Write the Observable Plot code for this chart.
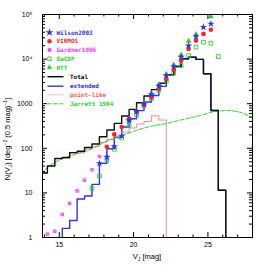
<!DOCTYPE html>
<html><head><meta charset="utf-8">
<script src="https://cdn.jsdelivr.net/npm/d3@7"></script>
<script src="https://cdn.jsdelivr.net/npm/@observablehq/plot@0.6"></script>
<style>body{margin:0;background:#fff;} svg{display:block;}</style>
</head><body><div id="chart"></div>
<script>
// ---- data ----
const binLo = [13.7,14.2,14.7,15.2,15.7,16.2,16.7,17.2,17.7,18.2,18.7,19.2,19.7,20.2,20.7,21.2,21.7,22.2,22.7,23.2,23.7,24.2,24.7,25.2,25.7];
const lastEdge = 26.2;
const totalN    = [28,40,59,62,80,86,104,125,182,257,363,530,746,1050,1490,2065,2880,4450,6830,10160,11000,9840,4690,703,11.5];
const extendedN = [0,0,0,1.6,2.4,7.3,8.5,15.5,46,98,175,300,460,700,1090,1530,2450,4450,6830,10160,11000,9840,4690,703,11.5];
const pointN    = [28,40,59,60,78,79,96,110,136,159,188,230,286,350,400,535,430,0,0,0,0,0,0,0,0];

const jarrettMag = [13.8,14.41,15.08,15.96,17.1,18.11,19.12,19.99,21.14,22.21,23.16,24.5,25.58,26.25,27.19,28.0];
const jarrettN   = [27,42,56,71,94,141,188,240,310,360,430,545,680,700,640,480];

const wilsonMag = [17.7,18.2,18.7,19.2,19.7,20.2,20.7,21.2,21.7,22.2,22.7,23.2,23.7,24.2,24.7,25.2];
const wilsonN   = [46,64,110,190,420,670,1000,1600,2500,4300,6800,11200,20000,32000,52000,61600];
const virmosMag = [18.2,18.7,19.2,19.7,20.2,20.7,21.2,21.7,22.2,22.7,23.2,23.7,24.2,24.7,25.2];
const virmosN   = [108,205,300,460,650,930,1400,2160,3600,5700,9300,16800,26000,36700,45400];
const gardnerMag = [14.2,14.7,15.2,15.7,16.2,16.7,17.2,17.7];
const gardnerN   = [1.19,1.38,3.28,5.8,11.1,19.3,33,65.4];
const oacdfMag = [17.2,17.7,18.2,18.7,19.2,19.7,20.2,20.7,21.2,21.7,22.2,22.7,23.2,23.7,24.2,24.7,25.2,25.7];
const oacdfN   = [12.6,24,53,95,170,330,560,900,1300,2000,3200,4800,7200,12000,18600,24000,22700,11400];
const nttMag = [19.7,20.2,20.7,21.2,21.7,22.2,22.7,23.2,23.7,24.2,25.2];
const nttN   = [430,700,1050,1700,2700,4600,7500,12500,25400,36000,90000];

const xLabels = [15,20,25];
const yLabels = [1,10,100,1000,10000,100000];
const yLabelText = ["1","10","100","1000","10\u2074","10\u2075"];

// ---- helpers ----
const yFloor = 1; // bottom of log axis stands for zero counts
function steps(vals){
  let f = vals.findIndex(v => v > 0), l = vals.length - 1;
  while (l > 0 && !(vals[l] > 0)) l--;
  const pts = [{x: binLo[f], y: yFloor}];
  for (let i = f; i <= l; i++) pts.push({x: binLo[i], y: vals[i]});
  const end = l + 1 < binLo.length ? binLo[l+1] : lastEdge;
  pts.push({x: end, y: vals[l]});
  pts.push({x: end, y: yFloor});
  return pts;
}
const zip = (xs, ys) => xs.map((x,i) => ({x, y: ys[i]}));

const W = 266, H = 266, mL = 42, mR = 14, mT = 14, mB = 29;
const frameW = W - mL - mR, frameH = H - mT - mB;
const xMinor = d3.range(14, 29).filter(v => !xLabels.includes(v));
const yMinor = [];
for (let e = 0; e < 5; e++) for (let m = 2; m <= 9; m++) yMinor.push(m * 10 ** e);

const C = {blue:"#2f2fff", red:"#ff1f1f", pink:"#ff5a5a", mag:"#ff30ff", green:"#27d327", black:"#000"};

const chart = Plot.plot({
  width: W, height: H,
  marginLeft: mL, marginRight: mR, marginTop: mT, marginBottom: mB,
  style: {fontFamily: "Liberation Sans, Arial, sans-serif", fontSize: "7px", background: "#fff"},
  x: {domain: [13.87, 28], axis: null},
  y: {type: "log", domain: [1, 1e5], axis: null},
  marks: [
    Plot.line(steps(extendedN), {x:"x", y:"y", curve:"step-after", stroke:C.blue, strokeWidth:1.4, clip:true}),
    Plot.line(steps(pointN), {x:"x", y:"y", curve:"step-after", stroke:C.pink, strokeWidth:0.8, strokeDasharray:"1,1", clip:true}),
    Plot.line(zip(jarrettMag, jarrettN), {x:"x", y:"y", curve:"monotone-x", stroke:C.green, strokeWidth:1, strokeDasharray:"4,2", clip:true}),
    Plot.line(steps(totalN), {x:"x", y:"y", curve:"step-after", stroke:"#111", strokeWidth:1.4, clip:true}),
    Plot.dot(zip(nttMag, nttN), {x:"x", y:"y", symbol:"triangle", fill:C.green, r:2.1}),
    Plot.dot(zip(oacdfMag, oacdfN), {x:"x", y:"y", symbol:"square", stroke:C.green, fill:"none", strokeWidth:0.9, r:2.1}),
    Plot.dot(zip(gardnerMag, gardnerN), {x:"x", y:"y", symbol:"square", fill:C.mag, r:1.9}),
    Plot.dot(zip(gardnerMag, gardnerN), {x:"x", y:"y", symbol:"times", stroke:"#ffb0ff", strokeWidth:0.6, r:1.4}),
    Plot.dot(zip(virmosMag, virmosN), {x:"x", y:"y", symbol:"circle", fill:C.red, r:2.3}),
    Plot.dot(zip(wilsonMag, wilsonN), {x:"x", y:"y", symbol:"star", fill:C.blue, r:2.3}),
    // inward ticks, all four sides
    Plot.tickX(xLabels, {x:d=>d, insetTop: frameH-5, stroke:"#000"}),
    Plot.tickX(xLabels, {x:d=>d, insetBottom: frameH-5, stroke:"#000"}),
    Plot.tickX(xMinor, {x:d=>d, insetTop: frameH-2.5, stroke:"#000"}),
    Plot.tickX(xMinor, {x:d=>d, insetBottom: frameH-2.5, stroke:"#000"}),
    Plot.tickY(yLabels, {y:d=>d, insetRight: frameW-5, stroke:"#000"}),
    Plot.tickY(yLabels, {y:d=>d, insetLeft: frameW-5, stroke:"#000"}),
    Plot.tickY(yMinor, {y:d=>d, insetRight: frameW-3, stroke:"#000"}),
    Plot.tickY(yMinor, {y:d=>d, insetLeft: frameW-3, stroke:"#000"}),
    Plot.axisX({ticks: xLabels, tickSize: 0, tickPadding: 5, label: null, fontSize: 7, fill:"#000"}),
    Plot.axisY({ticks: yLabels, tickSize: 0, tickPadding: 10, label: null, fontSize: 7, fill:"#000",
      tickFormat: d => yLabelText[yLabels.indexOf(d)]}),
    Plot.frame({stroke:"#000", strokeWidth:1})
  ]
});
document.getElementById("chart").appendChild(chart);

// ---- axis titles and legend ----
const svg = d3.select(chart);
const yt = svg.append("text").attr("transform","translate(10,139) rotate(-90)")
  .attr("text-anchor","middle").attr("font-size",7.5).attr("fill","#000")
  .attr("font-family","Liberation Sans, Arial, sans-serif");
yt.append("tspan").text("N(V");
yt.append("tspan").attr("font-size",5).attr("dy",1.5).text("J");
yt.append("tspan").attr("dy",-1.5).text(") [deg");
yt.append("tspan").attr("font-size",5).attr("dy",-3).text("\u22122");
yt.append("tspan").attr("dy",3).text(" (0.5 mag)");
yt.append("tspan").attr("font-size",5).attr("dy",-3).text("\u22121");
yt.append("tspan").attr("dy",3).text("]");

const xt = svg.append("text").attr("x",147).attr("y",259)
  .attr("text-anchor","middle").attr("font-size",7.5).attr("fill","#000")
  .attr("font-family","Liberation Sans, Arial, sans-serif");
xt.append("tspan").text("V");
xt.append("tspan").attr("font-size",5).attr("dy",1.5).text("J");
xt.append("tspan").attr("dy",-1.5).text(" [mag]");

const legSym = [
  {label:"Wilson2003", color:C.blue, sym:d3.symbolStar, fill:C.blue, size:20},
  {label:"VIRMOS", color:C.red, sym:d3.symbolCircle, fill:C.red, size:16},
  {label:"Gardner1996", color:C.mag, sym:d3.symbolSquare, fill:C.mag, size:12},
  {label:"OaCDF", color:C.green, sym:d3.symbolSquare, fill:"none", size:12},
  {label:"NTT", color:C.green, sym:d3.symbolTriangle, fill:C.green, size:12}
];
const legY = [32.5, 41.2, 50, 58.7, 67.4];
const lg = svg.append("g").attr("font-family","DejaVu Sans Mono, monospace").attr("font-weight","bold")
  .attr("font-size",6).attr("text-anchor","start");
legSym.forEach((d,i) => {
  const p = lg.append("path").attr("d", d3.symbol(d.sym, d.size)()).attr("transform",`translate(49.5,${legY[i]})`);
  if (d.fill === "none") p.attr("fill","none").attr("stroke",d.color).attr("stroke-width",0.9);
  else p.attr("fill",d.fill);
  lg.append("text").attr("x",56.5).attr("y",legY[i]+2.2).attr("fill",d.color).text(d.label);
});
const legLine = [
  {label:"Total", color:"#000", dash:null, w:1.4, tc:"#000"},
  {label:"extended", color:C.blue, dash:null, w:1.4, tc:C.blue},
  {label:"point-like", color:C.pink, dash:"1,1", w:0.8, tc:C.pink},
  {label:"Jarrett 1994", color:C.green, dash:"4,2", w:1, tc:C.green}
];
const lineY = [76.7, 86.2, 94.8, 103.8];
legLine.forEach((d,i) => {
  const l = lg.append("line").attr("x1",47.5).attr("x2",63.5).attr("y1",lineY[i]).attr("y2",lineY[i])
    .attr("stroke",d.color).attr("stroke-width",d.w);
  if (d.dash) l.attr("stroke-dasharray",d.dash);
  lg.append("text").attr("x",70).attr("y",lineY[i]+2.2).attr("fill",d.tc).text(d.label);
});
</script>
</body></html>
